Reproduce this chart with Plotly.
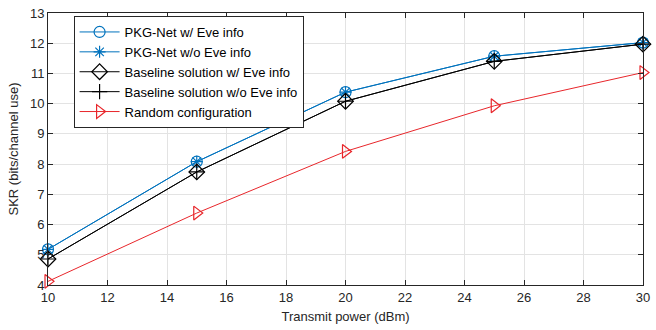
import plotly.graph_objects as go

power = [10, 15, 20, 25, 30]
pkg_w = [5.18, 8.08, 10.38, 11.57, 12.02]
pkg_wo = [5.18, 8.08, 10.38, 11.57, 12.02]
base_w = [4.86, 7.74, 10.08, 11.40, 11.97]
base_wo = [4.86, 7.74, 10.08, 11.40, 11.97]
rand_cfg = [4.12, 6.38, 8.42, 9.93, 11.03]

names = ["PKG-Net w/ Eve info", "PKG-Net w/o Eve info",
         "Baseline solution w/ Eve info", "Baseline solution w/o Eve info",
         "Random configuration"]

BLUE = "#0072BD"
RED = "#E8262B"
FONT = "Liberation Sans, Arial, sans-serif"
fig = go.Figure()
specs = [
    (pkg_w, BLUE, "circle-open", 11),
    (pkg_wo, BLUE, "asterisk-open", 10),
    (base_w, "black", "diamond-open", 12),
    (base_wo, "black", "cross-thin-open", 11),
    (rand_cfg, RED, "triangle-right-open", 12),
]
for (ys, col, sym, sz), nm in zip(specs, names):
    fig.add_trace(go.Scatter(
        x=power, y=ys, name=nm, mode="lines+markers", cliponaxis=False,
        line=dict(color=col, width=1),
        marker=dict(symbol=sym, size=sz, color=col, line=dict(color=col, width=1.2)),
    ))

axis_common = dict(
    showline=True, linecolor="#262626", linewidth=1, mirror="ticks",
    ticks="inside", ticklen=5, tickcolor="#262626",
    showgrid=True, gridcolor="#e3e3e3", gridwidth=1, zeroline=False,
    ticklabeloverflow="allow",
    tickfont=dict(family=FONT, size=13, color="#262626"),
    title_font=dict(family=FONT, size=13, color="#262626"),
)
fig.update_xaxes(range=[10, 30], dtick=2, tick0=10,
                 title_text="Transmit power (dBm)", title_standoff=8, **axis_common)
fig.update_yaxes(range=[4, 13], dtick=1, tick0=4,
                 title_text="SKR (bits/channel use)", title_standoff=8, **axis_common)

fig.update_layout(
    width=656, height=330,
    margin=dict(l=48, r=6, t=9, b=45),
    plot_bgcolor="white", paper_bgcolor="white",
    font=dict(family=FONT, size=13, color="#262626"),
    legend=dict(x=0.043, y=0.989, xanchor="left", yanchor="top",
                bgcolor="white", bordercolor="#262626", borderwidth=1,
                font=dict(family=FONT, size=13, color="black"), tracegroupgap=0,
                itemwidth=40),
    showlegend=True,
)

fig.write_html("out.html", config={"displayModeBar": False},
               post_script="document.body.style.margin='0';")
